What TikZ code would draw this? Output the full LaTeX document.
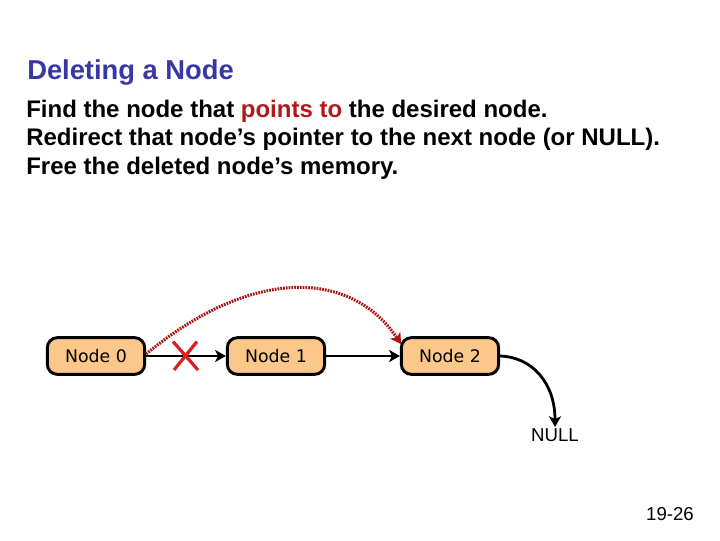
\documentclass[tikz,border=0pt]{standalone}
\usepackage{fontspec}
\setmainfont{Liberation Sans}
\newfontfamily\nodefont{DejaVu Sans}
\usetikzlibrary{arrows.meta}
\definecolor{titleblue}{RGB}{55,55,165}
\definecolor{hired}{RGB}{178,24,24}
\definecolor{dotred}{RGB}{175,20,20}
\definecolor{xred}{RGB}{220,30,30}
\definecolor{boxfill}{RGB}{252,200,138}
\tikzset{
  listnode/.style={draw=black, line width=2.2pt, fill=boxfill, rounded corners=7.5pt,
    minimum width=73pt, minimum height=27.5pt, inner sep=0pt,
    font=\nodefont\fontsize{13}{15}\selectfont},
  link/.style={line width=2.1pt, -{Stealth[length=8pt,width=9pt,inset=2pt]}},
  newlink/.style={draw=dotred, line width=2.3pt, dash pattern=on 1.3pt off 0.8pt,
    -{Stealth[length=8pt,width=9pt,inset=2pt]}},
  crossmark/.style={draw=xred, line width=2.4pt},
  bodytext/.style={anchor=base west, inner sep=0pt, font=\bfseries\fontsize{18}{21}\selectfont}
}
\begin{document}
\begin{tikzpicture}[x=0.75pt,y=-0.75pt]
\useasboundingbox (0,0) rectangle (720,540);
\node[anchor=base west, inner sep=0pt, text=titleblue, font=\bfseries\fontsize{20.5}{24}\selectfont] (title) at (27,79) {Deleting a Node};
\node[bodytext] (l1) at (26,117) {Find the node that \textcolor{hired}{points to} the desired node.};
\node[bodytext] (l2) at (26,145.5) {Redirect that node’s pointer to the next node (or NULL).};
\node[bodytext] (l3) at (26,174) {Free the deleted node’s memory.};

\node[listnode] (n0) at (96,356) {Node 0};
\node[listnode] (n1) at (276,356) {Node 1};
\node[listnode] (n2) at (450,356) {Node 2};
\node[inner sep=1pt, font=\fontsize{14}{16}\selectfont, anchor=north] (null) at (555,427) {NULL};

\draw[link] (n0.east) -- (n1.west);
\draw[link] (n1.east) -- (n2.west);
\draw[link] (n2.east) .. controls (532,357) and (555,383) .. (null.north);
\draw[newlink] ([yshift=1.5pt]n0.east) .. controls (250,268) and (350,268) .. ([xshift=1pt,yshift=-6pt]n2.north west);

\coordinate (xa) at (173,341.5);
\coordinate (xb) at (198,370);
\coordinate (xc) at (197,341.5);
\coordinate (xd) at (174,370);
\draw[crossmark] (xa) -- (xb);
\draw[crossmark] (xc) -- (xd);

\node[anchor=base, inner sep=0pt, font=\fontsize{14}{16}\selectfont] (page) at (670,520) {19-26};
\end{tikzpicture}
\end{document}
